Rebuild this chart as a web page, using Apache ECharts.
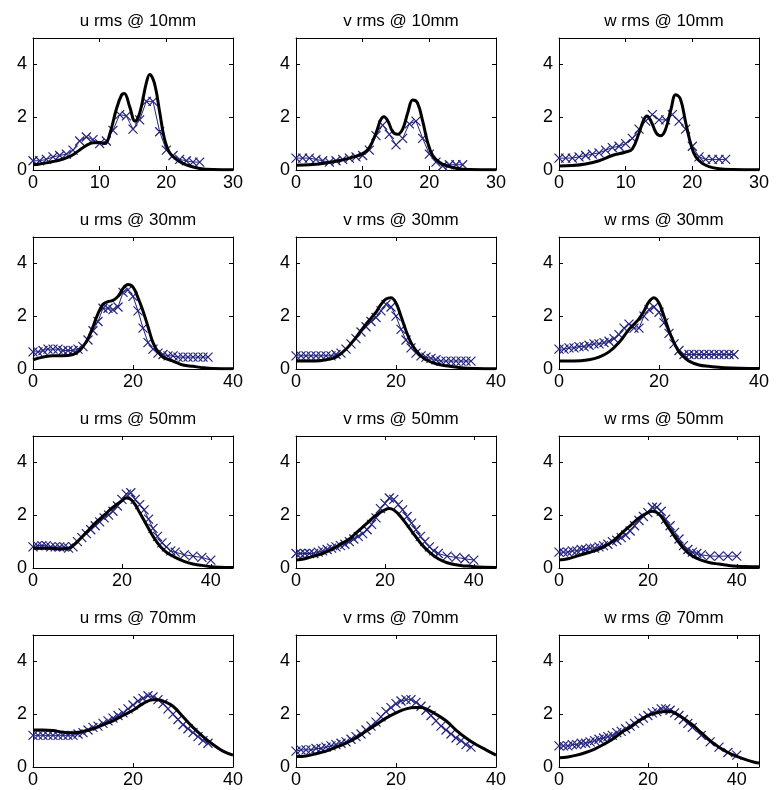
<!DOCTYPE html>
<html>
<head>
<meta charset="utf-8">
<title>rms profiles</title>
<script src="https://cdn.jsdelivr.net/npm/echarts@6/dist/echarts.min.js"></script>
<style>
  html, body { margin: 0; padding: 0; background: #fff; }
  #chart { width: 783px; height: 790px; }
</style>
</head>
<body>
<div id="chart"></div>
<script>
// ---- data: black = simulation line, marks = measured (x) ----
const u10Line = [[0,0.2],[1,0.23],[2,0.27],[3,0.32],[4,0.38],[5,0.46],[6,0.58],[7,0.76],[8,0.93],[9,1.03],[10,1.04],[10.8,1.0],[11.5,1.35],[12.5,2.3],[13.3,2.85],[13.7,2.9],[14.5,2.4],[15.3,1.85],[16,2.15],[17,3.3],[17.5,3.62],[18.2,3.3],[19,2.2],[19.7,1.2],[20.5,0.65],[21.5,0.4],[22.5,0.25],[23.5,0.15],[25,0.06],[27,0.02],[30,0.01]];
const u10Marks = [[0,0.35],[1,0.35],[2,0.4],[3,0.5],[4,0.55],[5,0.6],[6,0.75],[7,1.1],[8,1.25],[9,1.15],[10,1.0],[11,1.1],[12,1.5],[13,2.1],[14,2.05],[15,1.55],[16,1.9],[17,2.6],[18,2.6],[19,1.45],[20,0.75],[21,0.55],[22,0.4],[23,0.35],[24,0.3],[25,0.3]];

const v10Line = [[0,0.18],[2,0.2],[4,0.25],[6,0.33],[8,0.45],[10,0.62],[11,0.85],[12,1.4],[12.7,1.9],[13.2,2.02],[13.8,1.85],[14.5,1.45],[15.2,1.35],[16,1.55],[16.8,2.2],[17.5,2.65],[18.2,2.55],[19,1.85],[19.8,1.0],[20.5,0.55],[21.5,0.3],[22.5,0.17],[24,0.07],[26,0.02],[30,0.01]];
const v10Marks = [[0,0.45],[1,0.45],[2,0.45],[3,0.4],[4,0.35],[5,0.3],[6,0.35],[7,0.4],[8,0.45],[9,0.5],[10,0.55],[11,0.75],[12,1.3],[13,1.7],[14,1.35],[15,0.95],[16,1.2],[17,1.75],[18,1.85],[19,1.2],[20,0.6],[21,0.3],[22,0.15],[23,0.2],[24,0.2],[25,0.2]];

const w10Line = [[0,0.15],[2,0.17],[4,0.23],[6,0.35],[8,0.55],[10,0.68],[11,0.8],[12,1.4],[12.7,1.9],[13.2,2.05],[13.8,1.85],[14.6,1.4],[15.3,1.3],[16,1.55],[16.8,2.3],[17.5,2.85],[18.2,2.7],[19,1.8],[19.8,0.95],[20.5,0.5],[21.5,0.25],[22.5,0.13],[24,0.05],[26,0.02],[30,0.01]];
const w10Marks = [[0,0.45],[1,0.45],[2,0.45],[3,0.5],[4,0.55],[5,0.6],[6,0.65],[7,0.75],[8,0.85],[9,0.9],[10,1.0],[11,1.2],[12,1.55],[13,1.85],[14,2.1],[15,1.9],[16,1.9],[17,2.1],[18,1.85],[19,1.55],[20,0.9],[21,0.5],[22,0.4],[23,0.4],[24,0.4],[25,0.4]];

const u30Line = [[0,0.35],[2,0.45],[4,0.5],[6,0.5],[8,0.55],[9,0.65],[10,0.85],[11,1.15],[12,1.6],[13,2.1],[14,2.45],[15,2.55],[16,2.6],[17,2.75],[18,3.05],[19,3.2],[20,3.1],[21,2.7],[22,2.2],[23,1.6],[24,1.0],[25,0.65],[26,0.45],[28,0.3],[30,0.15],[32,0.1],[34,0.05],[36,0.02],[40,0.01]];
const u30Marks = [[0,0.65],[1,0.65],[2,0.7],[3,0.75],[4,0.75],[5,0.75],[6,0.7],[7,0.7],[8,0.7],[9,0.75],[10,0.85],[11,1.1],[12,1.45],[13,1.8],[14,2.3],[15,2.3],[16,2.25],[17,2.35],[18,2.9],[19,3.0],[20,2.75],[21,2.2],[22,1.55],[23,1.0],[24,0.75],[25,0.6],[26,0.55],[27,0.5],[28,0.5],[29,0.45],[30,0.45],[31,0.45],[32,0.45],[33,0.45],[34,0.45],[35,0.45]];

const v30Line = [[0,0.3],[4,0.3],[6,0.35],[8,0.45],[10,0.75],[12,1.2],[14,1.7],[16,2.15],[17,2.45],[18,2.65],[19,2.7],[20,2.5],[21,2.0],[22,1.45],[23,1.0],[24,0.7],[25,0.5],[26,0.35],[28,0.2],[30,0.12],[33,0.05],[36,0.02],[40,0.01]];
const v30Marks = [[0,0.5],[1,0.5],[2,0.5],[3,0.5],[4,0.5],[5,0.5],[6,0.5],[7,0.5],[8,0.55],[9,0.6],[10,0.75],[11,0.95],[12,1.15],[13,1.4],[14,1.6],[15,1.8],[16,1.95],[17,2.2],[18,2.45],[19,2.35],[20,2.0],[21,1.5],[22,1.1],[23,0.8],[24,0.6],[25,0.5],[26,0.45],[27,0.4],[28,0.35],[29,0.3],[30,0.3],[31,0.3],[32,0.3],[33,0.3],[34,0.3],[35,0.3]];

const w30Line = [[0,0.3],[3,0.3],[6,0.35],[8,0.45],[10,0.65],[12,1.0],[14,1.5],[16,1.9],[17,2.2],[18,2.55],[19,2.7],[20,2.5],[21,2.0],[22,1.45],[23,1.0],[24,0.65],[25,0.45],[26,0.3],[28,0.15],[30,0.1],[33,0.05],[40,0.02]];
const w30Marks = [[0,0.75],[1,0.75],[2,0.8],[3,0.8],[4,0.85],[5,0.85],[6,0.9],[7,0.95],[8,0.95],[9,1.0],[10,1.05],[11,1.15],[12,1.3],[13,1.55],[14,1.7],[15,1.55],[16,1.55],[17,2.0],[18,2.25],[19,2.35],[20,2.15],[21,1.75],[22,1.35],[23,0.95],[24,0.7],[25,0.55],[26,0.55],[27,0.55],[28,0.55],[29,0.55],[30,0.55],[31,0.55],[32,0.55],[33,0.55],[34,0.55],[35,0.55]];

const u50Line = [[0,0.75],[2,0.75],[4,0.75],[6,0.72],[8,0.75],[9,0.85],[10,1.0],[12,1.35],[14,1.7],[16,2.0],[18,2.3],[20,2.55],[21,2.65],[22,2.6],[23,2.4],[24,2.1],[25,1.8],[26,1.5],[27,1.2],[28,0.95],[29,0.75],[30,0.6],[32,0.4],[34,0.25],[36,0.15],[38,0.1],[40,0.05],[42,0.03],[45,0.02]];
const u50Marks = [[0,0.8],[1,0.85],[2,0.85],[3,0.85],[4,0.8],[5,0.8],[6,0.8],[7,0.8],[8,0.75],[9,0.8],[10,1.0],[11,1.15],[12,1.3],[13,1.45],[14,1.6],[15,1.75],[16,1.9],[17,2.0],[18,2.15],[19,2.35],[20,2.6],[21,2.8],[22,2.85],[23,2.6],[24,2.4],[25,2.2],[26,1.85],[27,1.5],[28,1.2],[29,0.95],[30,0.8],[31,0.65],[32,0.6],[34,0.5],[36,0.45],[38,0.4],[40,0.3]];

const v50Line = [[0,0.3],[2,0.35],[4,0.45],[6,0.55],[8,0.7],[10,0.9],[12,1.1],[14,1.4],[16,1.7],[18,2.0],[20,2.2],[21,2.25],[22,2.2],[23,2.05],[24,1.85],[26,1.4],[28,0.95],[30,0.6],[32,0.35],[34,0.2],[36,0.12],[38,0.08],[40,0.05],[45,0.02]];
const v50Marks = [[0,0.55],[1,0.55],[2,0.55],[3,0.55],[4,0.55],[5,0.6],[6,0.65],[7,0.7],[8,0.75],[9,0.8],[10,0.85],[11,0.9],[12,1.0],[13,1.1],[14,1.2],[15,1.3],[16,1.45],[17,1.65],[18,1.9],[19,2.25],[20,2.45],[21,2.65],[22,2.6],[23,2.4],[24,2.2],[25,1.95],[26,1.7],[27,1.45],[28,1.2],[29,1.0],[30,0.8],[31,0.65],[32,0.55],[34,0.45],[36,0.4],[38,0.35],[40,0.3]];

const w50Line = [[0,0.3],[2,0.35],[4,0.45],[6,0.55],[8,0.65],[10,0.8],[12,1.0],[14,1.3],[16,1.6],[18,1.9],[20,2.1],[21,2.15],[22,2.1],[23,1.95],[24,1.7],[26,1.2],[28,0.75],[30,0.45],[32,0.3],[34,0.2],[36,0.15],[38,0.1],[40,0.07],[45,0.05]];
const w50Marks = [[0,0.6],[1,0.6],[2,0.6],[3,0.65],[4,0.65],[5,0.7],[6,0.7],[7,0.75],[8,0.75],[9,0.8],[10,0.85],[11,0.9],[12,1.0],[13,1.05],[14,1.15],[15,1.25],[16,1.4],[17,1.6],[18,1.8],[19,1.95],[20,2.1],[21,2.3],[22,2.3],[23,2.15],[24,1.85],[25,1.6],[26,1.35],[27,1.1],[28,0.85],[29,0.7],[30,0.6],[31,0.55],[32,0.5],[34,0.45],[36,0.45],[38,0.45],[40,0.45]];

const u70Line = [[0,1.4],[2,1.4],[4,1.38],[6,1.32],[8,1.3],[10,1.35],[12,1.45],[14,1.6],[16,1.75],[18,1.95],[20,2.15],[22,2.4],[24,2.55],[25,2.55],[26,2.5],[28,2.3],[30,1.9],[32,1.5],[34,1.15],[36,0.85],[38,0.6],[40,0.45]];
const u70Marks = [[0,1.2],[1,1.2],[2,1.2],[3,1.2],[4,1.2],[5,1.2],[6,1.2],[7,1.2],[8,1.2],[9,1.25],[10,1.3],[11,1.4],[12,1.5],[13,1.55],[14,1.65],[15,1.75],[16,1.85],[17,1.95],[18,2.05],[19,2.2],[20,2.35],[21,2.5],[22,2.6],[23,2.7],[24,2.65],[25,2.55],[26,2.4],[27,2.2],[28,2.0],[29,1.8],[30,1.6],[31,1.45],[32,1.3],[33,1.15],[34,1.0],[35,0.9]];

const v70Line = [[0,0.4],[2,0.42],[4,0.5],[6,0.6],[8,0.75],[10,0.9],[12,1.1],[14,1.35],[16,1.6],[18,1.85],[20,2.05],[22,2.2],[24,2.25],[25,2.25],[26,2.2],[28,2.0],[30,1.75],[32,1.4],[34,1.1],[36,0.85],[38,0.65],[40,0.45]];
const v70Marks = [[0,0.6],[1,0.65],[2,0.65],[3,0.65],[4,0.7],[5,0.7],[6,0.75],[7,0.8],[8,0.85],[9,0.9],[10,0.95],[11,1.05],[12,1.15],[13,1.25],[14,1.4],[15,1.55],[16,1.7],[17,1.9],[18,2.1],[19,2.25],[20,2.4],[21,2.5],[22,2.55],[23,2.55],[24,2.45],[25,2.3],[26,2.15],[27,1.95],[28,1.75],[29,1.55],[30,1.4],[31,1.25],[32,1.1],[33,1.0],[34,0.85],[35,0.75]];

const w70Line = [[0,0.35],[2,0.38],[4,0.45],[6,0.55],[8,0.68],[10,0.85],[12,1.05],[14,1.3],[16,1.5],[18,1.75],[20,1.95],[22,2.05],[24,2.1],[25,2.1],[26,2.05],[28,1.85],[30,1.6],[32,1.3],[34,1.0],[36,0.75],[38,0.55],[40,0.4],[42,0.28],[44,0.18],[45,0.15]];
const w70Marks = [[0,0.8],[1,0.8],[2,0.8],[3,0.85],[4,0.85],[5,0.9],[6,0.9],[7,0.95],[8,1.0],[9,1.05],[10,1.1],[11,1.15],[12,1.2],[13,1.3],[14,1.35],[15,1.45],[16,1.55],[17,1.65],[18,1.75],[19,1.85],[20,1.95],[21,2.05],[22,2.1],[23,2.2],[24,2.2],[25,2.15],[26,2.05],[27,1.95],[28,1.8],[29,1.65],[30,1.5],[32,1.2],[34,0.95],[36,0.75],[38,0.55],[40,0.45]];

// panel order: row by row, u / v / w
const titles = [
  "u rms @ 10mm", "v rms @ 10mm", "w rms @ 10mm",
  "u rms @ 30mm", "v rms @ 30mm", "w rms @ 30mm",
  "u rms @ 50mm", "v rms @ 50mm", "w rms @ 50mm",
  "u rms @ 70mm", "v rms @ 70mm", "w rms @ 70mm",
];
const lines = [u10Line, v10Line, w10Line, u30Line, v30Line, w30Line, u50Line, v50Line, w50Line, u70Line, v70Line, w70Line];
const marks = [u10Marks, v10Marks, w10Marks, u30Marks, v30Marks, w30Marks, u50Marks, v50Marks, w50Marks, u70Marks, v70Marks, w70Marks];
const xMax = [30, 30, 30, 40, 40, 40, 45, 45, 45, 40, 40, 45];
const xStep = [10, 10, 10, 20, 20, 20, 20, 20, 20, 20, 20, 20];
const yMax = 5;
const yStep = 2;

const colLeft = [33, 296, 559];
const rowTop = [38, 237, 436, 635];
const boxW = 200;
const boxH = 132;

const BLUE = "#23237e";
const FONT = "Liberation Sans";

const chart = echarts.init(document.getElementById("chart"));

const grid = [], xAxis = [], yAxis = [], title = [], series = [];

titles.forEach((t, i) => {
  const left = colLeft[i % 3];
  const top = rowTop[Math.floor(i / 3)];
  grid.push({ left, top, width: boxW, height: boxH, containLabel: false });

  title.push({
    text: t,
    left: left + boxW / 2,
    top: top - 30,
    textAlign: "center",
    textStyle: { fontFamily: FONT, fontSize: 17, fontWeight: "normal", color: "#000" },
  });

  const step = xStep[i];
  const tick = { show: true, inside: true, length: 4, lineStyle: { color: "#000" } };
  const line = { show: true, onZero: false, lineStyle: { color: "#000", width: 1 } };

  // bottom (labelled) + top (mirror) x axes
  xAxis.push({
    gridIndex: i, type: "value", position: "bottom",
    min: 0, max: xMax[i], interval: step,
    axisLine: line, axisTick: tick, splitLine: { show: false },
    axisLabel: {
      color: "#000", fontFamily: FONT, fontSize: 18, margin: 4,
      formatter: (v) => (v % step === 0 ? String(v) : ""),
    },
  });
  xAxis.push({
    gridIndex: i, type: "value", position: "top",
    min: 0, max: xMax[i], interval: step,
    axisLine: line, axisTick: tick, axisLabel: { show: false }, splitLine: { show: false },
  });

  // left (labelled) + right (mirror) y axes
  yAxis.push({
    gridIndex: i, type: "value", position: "left",
    min: 0, max: yMax, interval: yStep,
    axisLine: line, axisTick: tick, splitLine: { show: false },
    axisLabel: {
      color: "#000", fontFamily: FONT, fontSize: 18, margin: 6,
      formatter: (v) => (v % yStep === 0 ? String(v) : ""),
    },
  });
  yAxis.push({
    gridIndex: i, type: "value", position: "right",
    min: 0, max: yMax, interval: yStep,
    axisLine: line, axisTick: tick, axisLabel: { show: false }, splitLine: { show: false },
  });

  series.push({
    type: "line",
    xAxisIndex: 2 * i, yAxisIndex: 2 * i,
    data: marks[i],
    symbol: "path://M0,0L10,10M10,0L0,10",
    symbolSize: 9,
    itemStyle: { color: "rgba(0,0,0,0)", borderColor: BLUE, borderWidth: 1.2 },
    lineStyle: { color: BLUE, width: 1 },
    z: 2,
  });
  series.push({
    type: "line",
    xAxisIndex: 2 * i, yAxisIndex: 2 * i,
    data: lines[i],
    smooth: 0.4,
    showSymbol: false,
    lineStyle: { color: "#000", width: 3 },
    z: 3,
  });
});

chart.setOption({
  backgroundColor: "#fff",
  animation: false,
  title, grid, xAxis, yAxis, series,
});
</script>
</body>
</html>
